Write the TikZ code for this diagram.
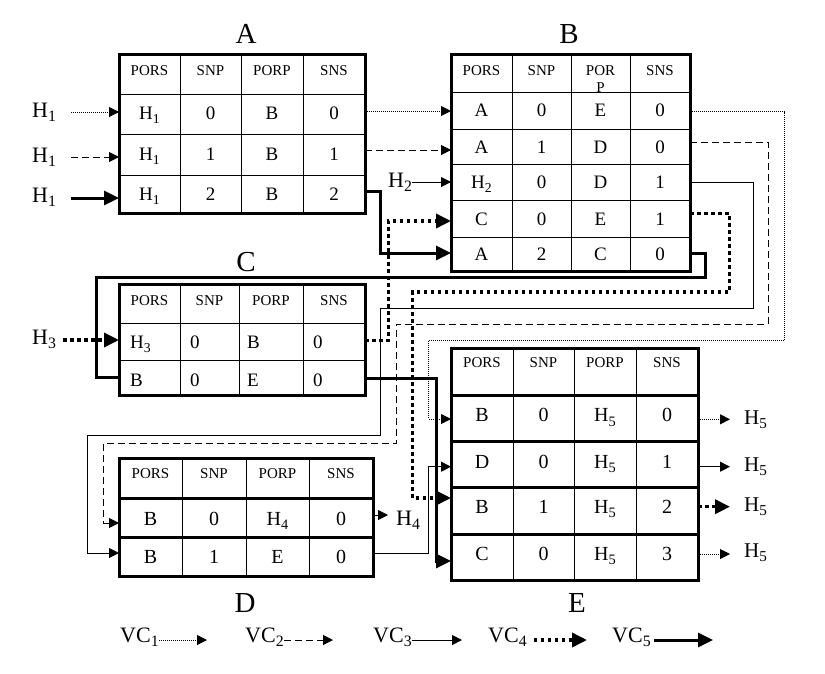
\documentclass[tikz,border=0pt]{standalone}
\usepackage{fontspec}
\setmainfont{Liberation Serif}
\usetikzlibrary{arrows.meta}
\newcommand\sbs[1]{\raisebox{-0.22em}{\scalebox{0.72}{#1}}}
\newcommand\trow[6]{%
  \node[cl] (#1-1) at (\xa,#2) {#3};
  \node[cl] (#1-2) at (\xb,#2) {#4};
  \node[cl] (#1-3) at (\xc,#2) {#5};
  \node[cl] (#1-4) at (\xd,#2) {#6};}
\newcommand\hrow[2]{%
  \node[hd] (#1-1) at (\xa,#2) {PORS};
  \node[hd] (#1-2) at (\xb,#2) {SNP};
  \node[hd] (#1-3) at (\xc,#2) {PORP};
  \node[hd] (#1-4) at (\xd,#2) {SNS};}
\tikzset{
 tbl/.style={draw, line width=3pt, inner sep=0pt, outer sep=0pt},
 gl/.style={line width=1pt},
 gt/.style={line width=3pt},
 hd/.style={font=\fontsize{15}{15}\selectfont, anchor=base, inner sep=0pt},
 cl/.style={font=\fontsize{19}{19}\selectfont, anchor=base, inner sep=0pt},
 ttl/.style={font=\fontsize{29}{29}\selectfont, anchor=base, inner sep=0pt},
 lab/.style={font=\fontsize{22}{22}\selectfont, anchor=base west, inner sep=0pt},
 aS/.style={-{Triangle[length=10pt,width=10pt]}},
 aB/.style={-{Triangle[length=15pt,width=14pt]}},
 cdot/.style={line width=1pt, dash pattern=on 1pt off 1pt},
 cdash/.style={line width=1pt, dash pattern=on 7pt off 4pt},
 csol/.style={line width=1pt},
 cbdot/.style={line width=3.5pt, dash pattern=on 3.5pt off 3.5pt},
 cbsol/.style={line width=3pt},
}
\begin{document}
\begin{tikzpicture}[x=1pt,y=-1pt]
\useasboundingbox (0,0) rectangle (825,673);

% ---------- titles
\node[ttl] (tA) at (246,43) {A};
\node[ttl] (tB) at (569,43) {B};
\node[ttl] (tC) at (246,271) {C};
\node[ttl] (tD) at (245,612) {D};
\node[ttl] (tE) at (577,612) {E};

% ---------- grid lines
\draw[gl] (180,54)--(180,213) (241,54)--(241,213) (303,54)--(303,213)
          (119,94)--(365,94) (119,134)--(365,134) (119,175)--(365,175);
\draw[gl] (512,54)--(512,271) (571,54)--(571,271) (630,54)--(630,271)
          (451,92)--(690,92) (451,129)--(690,129) (451,164)--(690,164)
          (451,200)--(690,200) (451,237)--(690,237);
\draw[gl] (180,284)--(180,395) (239,284)--(239,395) (303,284)--(303,395)
          (119,323)--(365,323) (119,360)--(365,360);
\draw[gl] (182,458)--(182,576) (246,458)--(246,576) (309,458)--(309,576);
\draw[gt] (119,498)--(373,498) (119,537)--(373,537);
\draw[gl] (513,348)--(513,580) (574,348)--(574,580) (636,348)--(636,580);
\draw[gt] (451,395)--(698,395) (451,441)--(698,441) (451,487)--(698,487) (451,534)--(698,534);

% ---------- tables (outer borders)
\node[tbl, minimum width=246pt, minimum height=159pt] (A) at (242,133.5) {};
\node[tbl, minimum width=239pt, minimum height=217pt] (B) at (570.5,162.5) {};
\node[tbl, minimum width=246pt, minimum height=111pt] (C) at (242,339.5) {};
\node[tbl, minimum width=254pt, minimum height=118pt] (D) at (246,517) {};
\node[tbl, minimum width=247pt, minimum height=232pt] (E) at (574.5,464) {};

% ---------- table A
\def\xa{149.5}\def\xb{210.5}\def\xc{272}\def\xd{334}
\hrow{A0}{75}
\trow{A1}{119.5}{H\sbs{1}}{0}{B}{0}
\trow{A2}{160}{H\sbs{1}}{1}{B}{1}
\trow{A3}{200}{H\sbs{1}}{2}{B}{2}

% ---------- table B
\def\xa{481.5}\def\xb{541.5}\def\xc{600.5}\def\xd{660}
\node[hd] (B0-1) at (\xa,75) {PORS};
\node[hd] (B0-2) at (\xb,75) {SNP};
\node[hd] (B0-3) at (\xc,75) {POR};
\node[hd] (B0-3b) at (\xc,92) {P};
\node[hd] (B0-4) at (\xd,75) {SNS};
\trow{B1}{116.7}{A}{0}{E}{0}
\trow{B2}{153.3}{A}{1}{D}{0}
\trow{B3}{188.3}{H\sbs{2}}{0}{D}{1}
\trow{B4}{225}{C}{0}{E}{1}
\trow{B5}{260}{A}{2}{C}{0}

% ---------- table C
\def\xa{149.5}\def\xb{209.5}\def\xc{271}\def\xd{334}
\hrow{C0}{305}
\begin{scope}[cl/.append style={anchor=base west}]
\def\xa{130}\def\xb{190}\def\xc{247}\def\xd{313}
\trow{C1}{348}{H\sbs{3}}{0}{B}{0}
\trow{C2}{386}{B}{0}{E}{0}
\end{scope}

% ---------- table D
\begin{scope}[cl/.append style={font=\fontsize{20}{20}\selectfont}]
\def\xa{150.5}\def\xb{214}\def\xc{277.5}\def\xd{341}
\hrow{D0}{478}
\trow{D1}{525}{B}{0}{H\sbs{4}}{0}
\trow{D2}{563}{B}{1}{E}{0}

% ---------- table E
\def\xa{482}\def\xb{543.5}\def\xc{605}\def\xd{667}
\hrow{E0}{367}
\trow{E1}{421.7}{B}{0}{H\sbs{5}}{0}
\trow{E2}{468.3}{D}{0}{H\sbs{5}}{1}
\trow{E3}{513.3}{B}{1}{H\sbs{5}}{2}
\trow{E4}{560}{C}{0}{H\sbs{5}}{3}
\end{scope}

% ---------- outside labels
\node[lab] (h1a) at (32,117) {H\sbs{1}};
\node[lab] (h1b) at (32,162) {H\sbs{1}};
\node[lab] (h1c) at (32,202) {H\sbs{1}};
\node[lab] (h2) at (388,187) {H\sbs{2}};
\node[lab] (h3) at (32,344) {H\sbs{3}};
\node[lab] (h4) at (396,525) {H\sbs{4}};
\node[lab, font=\fontsize{21}{21}\selectfont] (h5a) at (744,424) {H\sbs{5}};
\node[lab, font=\fontsize{21}{21}\selectfont] (h5b) at (744,471) {H\sbs{5}};
\node[lab, font=\fontsize{21}{21}\selectfont] (h5c) at (744,511) {H\sbs{5}};
\node[lab, font=\fontsize{21}{21}\selectfont] (h5d) at (744,557) {H\sbs{5}};

% ---------- connection points
\coordinate (h1s1) at (71,112);  \coordinate (Aw1) at (119,112);
\coordinate (h1s2) at (71,157);  \coordinate (Aw2) at (119,157);
\coordinate (h1s3) at (71,198);  \coordinate (Aw3) at (119,198);
\coordinate (Ae1) at (365,111); \coordinate (Ae2) at (365,150); \coordinate (Ae3) at (365,191);
\coordinate (Bw1) at (451,111); \coordinate (Bw2) at (451,150); \coordinate (Bw3) at (451,182);
\coordinate (Bw4) at (451,221); \coordinate (Bw5) at (451,253);
\coordinate (Be1) at (690,111.7); \coordinate (Be2) at (690,142.3); \coordinate (Be3) at (690,182.3);
\coordinate (Be4) at (690,213.3); \coordinate (Be5) at (690,253.3);
\coordinate (h3s) at (63,340);
\coordinate (Cw1) at (119,340); \coordinate (Cw2) at (119,377.5);
\coordinate (Ce1) at (365,340.5); \coordinate (Ce2) at (365,378.5);
\coordinate (Dw1) at (119,523); \coordinate (Dw2) at (119,553);
\coordinate (De1) at (373,515); \coordinate (De2) at (373,553);
\coordinate (h4t) at (388,515);
\coordinate (Ew1) at (451,419); \coordinate (Ew2) at (451,466.7);
\coordinate (Ew3) at (451,498); \coordinate (Ew4) at (451,561);
\coordinate (Ee1) at (698,419.3); \coordinate (Ee2) at (698,466.7);
\coordinate (Ee3) at (698,506.7); \coordinate (Ee4) at (698,554);
\coordinate (h5t1) at (730,419.3); \coordinate (h5t2) at (730,466.7);
\coordinate (h5t3) at (730,506.7); \coordinate (h5t4) at (730,554);

% ---------- connectors
\draw[cdot, aS] (h1s1) -- (Aw1);
\draw[cdash, aS] (h1s2) -- (Aw2);
\draw[cbsol, aB] (h1s3) -- (Aw3);
\draw[cdot, aS] (Ae1) -- (Bw1);
\draw[cdash, aS] (Ae2) -- (Bw2);
\draw[cbsol, aB] (Ae3) -| (380.7,253) -- (Bw5);
\draw[csol, aS] (h2.east |- Bw3) -- (Bw3);
\draw[cbdot, aB] (Ce1) -| (388.3,221) -- (Bw4);
\draw[cbdot, aB] (h3s) -- (Cw1);
\draw[cdot, aS] (Be1) -| (784.3,340.7) -| (428.3,419) -- (Ew1);
\draw[cdash, aS] (Be2) -| (768.3,324) -| (396.3,443.3) -| (103.5,523) -- (Dw1);
\draw[csol, aS] (Be3) -| (753.3,308.3) -| (380.7,435) -| (87.3,553) -- (Dw2);
\draw[cbdot, aB] (Be4) -| (729.3,292) -| (412.5,498) -- (Ew3);
\draw[cbsol] (Be5) -| (705,277) -| (96,377.5) -- (Cw2);
\draw[cbsol, aB] (Ce2) -| (436.7,561) -- (Ew4);
\draw[csol, aS] (De1) -- (h4t);
\draw[csol, aS] (De2) -| (428.3,466.7) -- (Ew2);
\draw[cdot, aS] (Ee1) -- (h5t1);
\draw[csol, aS] (Ee2) -- (h5t2);
\draw[cbdot, aB] (Ee3) -- (h5t3);
\draw[cdot, aS] (Ee4) -- (h5t4);

% ---------- legend
\node[lab] (vc1) at (120,642) {VC\sbs{1}};
\node[lab] (vc2) at (245,642) {VC\sbs{2}};
\node[lab] (vc3) at (373,642) {VC\sbs{3}};
\node[lab] (vc4) at (488,642) {VC\sbs{4}};
\node[lab] (vc5) at (612,642) {VC\sbs{5}};
\coordinate (vc1e) at (207,640);
\coordinate (vc2e) at (333,640);
\coordinate (vc3e) at (462,640);
\coordinate (vc4e) at (587,640);
\coordinate (vc5e) at (713,640);
\draw[cdot, aS] (vc1.east |- vc1e) -- (vc1e);
\draw[cdash, aS] (vc2.east |- vc2e) -- (vc2e);
\draw[csol, aS] (vc3.east |- vc3e) -- (vc3e);
\draw[cbdot, aB, shorten <=7pt] (vc4.east |- vc4e) -- (vc4e);
\draw[cbsol, aB, shorten <=3pt] (vc5.east |- vc5e) -- (vc5e);
\end{tikzpicture}
\end{document}
